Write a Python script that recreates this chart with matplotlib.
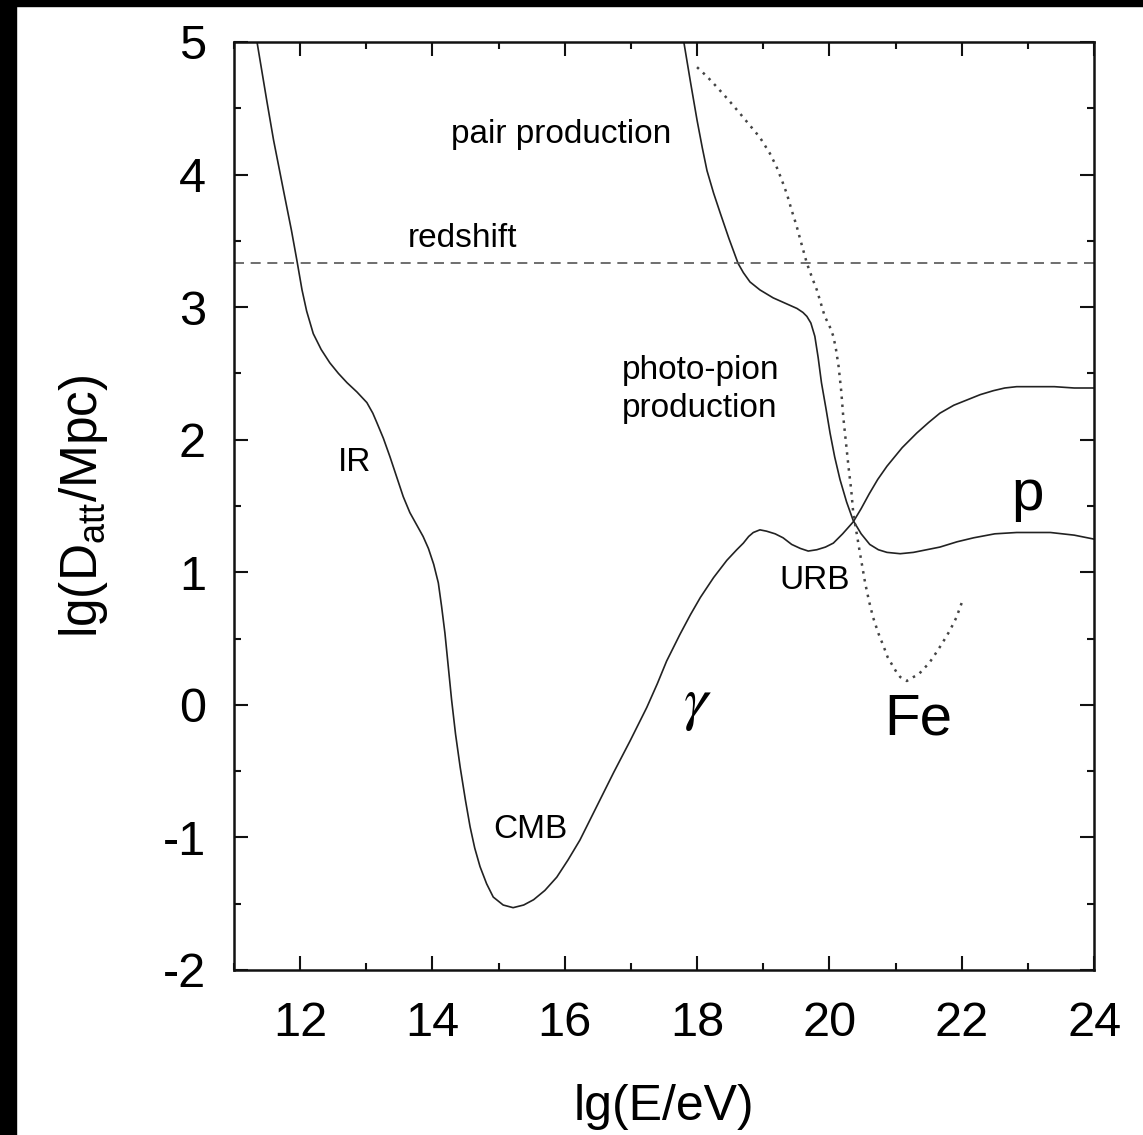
import matplotlib.pyplot as plt
from matplotlib.patches import Rectangle
from matplotlib.ticker import MultipleLocator

plt.rcParams['font.family'] = ['Liberation Sans', 'DejaVu Sans']
plt.rcParams['mathtext.fontset'] = 'custom'
plt.rcParams['mathtext.rm'] = 'Liberation Sans'
plt.rcParams['mathtext.it'] = 'Liberation Sans:italic'
plt.rcParams['axes.unicode_minus'] = False

# attenuation length curves, lg(E/eV) vs lg(D_att/Mpc)
gamma_x = [11.35, 11.50, 11.60, 11.75, 11.87, 11.95, 12.03, 12.10, 12.20, 12.32,
           12.45, 12.58, 12.71, 12.86, 13.01, 13.10, 13.16, 13.26, 13.36, 13.46,
           13.56, 13.66, 13.76, 13.86, 13.94, 14.02, 14.09, 14.14, 14.19, 14.24,
           14.29, 14.35, 14.42, 14.50, 14.57, 14.64, 14.72, 14.82, 14.92, 15.07,
           15.22, 15.38, 15.53, 15.70, 15.88, 16.05, 16.23, 16.48, 16.74, 16.99,
           17.24, 17.40, 17.54, 17.74, 17.90, 18.05, 18.25, 18.45, 18.60, 18.70,
           18.78, 18.85, 18.95, 19.05, 19.18, 19.30, 19.43, 19.56, 19.68, 19.81,
           19.94, 20.06, 20.20, 20.36, 20.48, 20.60, 20.73, 20.87, 21.10, 21.32,
           21.50, 21.67, 21.88, 22.08, 22.28, 22.48, 22.65, 22.83, 23.10, 23.40,
           23.70, 24.00]
gamma_y = [5.00, 4.55, 4.26, 3.88, 3.58, 3.36, 3.13, 2.97, 2.80, 2.68,
           2.58, 2.50, 2.43, 2.36, 2.28, 2.20, 2.13, 2.01, 1.87, 1.72,
           1.57, 1.45, 1.36, 1.27, 1.18, 1.06, 0.92, 0.74, 0.54, 0.29,
           0.04, -0.22, -0.47, -0.72, -0.92, -1.08, -1.22, -1.35, -1.45, -1.51,
           -1.53, -1.51, -1.47, -1.40, -1.30, -1.17, -1.02, -0.77, -0.51, -0.27,
           -0.02, 0.16, 0.33, 0.53, 0.68, 0.81, 0.96, 1.09, 1.17, 1.22,
           1.27, 1.30, 1.32, 1.31, 1.29, 1.26, 1.21, 1.18, 1.16, 1.17,
           1.19, 1.22, 1.29, 1.38, 1.48, 1.59, 1.70, 1.80, 1.94, 2.05,
           2.13, 2.20, 2.26, 2.30, 2.34, 2.37, 2.39, 2.40, 2.40, 2.40,
           2.39, 2.39]

proton_x = [17.80, 17.90, 18.00, 18.08, 18.15, 18.25, 18.35, 18.48, 18.62, 18.70,
            18.80, 18.95, 19.15, 19.33, 19.51, 19.60, 19.66, 19.72, 19.78, 19.83,
            19.88, 19.95, 20.01, 20.08, 20.16, 20.26, 20.36, 20.48, 20.61, 20.74,
            20.87, 21.07, 21.27, 21.47, 21.67, 21.93, 22.18, 22.50, 22.83, 23.10,
            23.34, 23.70, 24.00]
proton_y = [5.00, 4.70, 4.41, 4.20, 4.03, 3.86, 3.71, 3.52, 3.33, 3.26,
            3.19, 3.13, 3.07, 3.03, 2.99, 2.96, 2.93, 2.88, 2.78, 2.62,
            2.43, 2.23, 2.05, 1.87, 1.70, 1.53, 1.39, 1.29, 1.21, 1.17,
            1.15, 1.14, 1.15, 1.17, 1.19, 1.23, 1.26, 1.29, 1.30, 1.30,
            1.30, 1.28, 1.25]

iron_x = [18.00, 18.15, 18.30, 18.48, 18.65, 18.80, 18.95, 19.10, 19.20, 19.28,
          19.36, 19.43, 19.50, 19.56, 19.61, 19.66, 19.74, 19.81, 19.87, 19.93,
          20.00, 20.06, 20.10, 20.14, 20.18, 20.21, 20.25, 20.29, 20.33, 20.36,
          20.41, 20.46, 20.54, 20.60, 20.66, 20.74, 20.82, 20.88, 20.95, 21.01,
          21.07, 21.17, 21.27, 21.35, 21.42, 21.50, 21.57, 21.70, 21.82, 21.92,
          22.00]
iron_y = [4.81, 4.74, 4.66, 4.56, 4.46, 4.37, 4.28, 4.16, 4.06, 3.96,
          3.85, 3.73, 3.62, 3.51, 3.42, 3.33, 3.22, 3.13, 3.03, 2.93,
          2.86, 2.78, 2.68, 2.55, 2.36, 2.17, 1.98, 1.79, 1.62, 1.45,
          1.30, 1.15, 0.92, 0.78, 0.66, 0.54, 0.44, 0.36, 0.30, 0.25,
          0.21, 0.18, 0.21, 0.23, 0.27, 0.31, 0.36, 0.46, 0.56, 0.66,
          0.77]

redshift_level = 3.33

fig = plt.figure(figsize=(11.43, 11.35), dpi=100, facecolor='white')
fig.patches.append(Rectangle((0, 0), 16 / 1143, 1, transform=fig.transFigure,
                             color='black', zorder=-1))
fig.patches.append(Rectangle((0, 1 - 6 / 1135), 1, 6 / 1135, transform=fig.transFigure,
                             color='black', zorder=-1))

ax = fig.add_axes([0.2046, 0.1454, 0.7526, 0.8176])

lc = '#222222'
ax.plot(gamma_x, gamma_y, color=lc, lw=1.2)
ax.plot(proton_x, proton_y, color=lc, lw=1.2)
ax.plot(iron_x, iron_y, color='#444444', lw=1.8, linestyle=(0, (1.0, 2.2)))
ax.axhline(redshift_level, color='#555555', lw=1.2, linestyle=(0, (6, 4)))

ax.set_xlim(11, 24)
ax.set_ylim(-2, 5)
ax.xaxis.set_major_locator(MultipleLocator(2))
ax.xaxis.set_minor_locator(MultipleLocator(1))
ax.yaxis.set_major_locator(MultipleLocator(1))
ax.yaxis.set_minor_locator(MultipleLocator(0.5))
ax.tick_params(which='both', direction='in', top=True, right=True,
               width=1.5, color='#111111', labelsize=35)
ax.tick_params(which='major', length=10)
ax.tick_params(which='minor', length=5)
ax.tick_params(axis='x', pad=22)
ax.tick_params(axis='y', pad=20)
for s in ax.spines.values():
    s.set_linewidth(1.8)
    s.set_color('#111111')

ax.set_xlabel('lg(E/eV)', fontsize=36, labelpad=28)
ax.set_ylabel(r'lg(D$_{\mathrm{att}}$/Mpc)', fontsize=37, labelpad=38)

fs = 24
ax.text(15.94, 4.30, 'pair production', fontsize=fs, ha='center', va='center')
ax.text(14.45, 3.52, 'redshift', fontsize=fs, ha='center', va='center')
ax.text(16.87, 2.38, 'photo-pion\nproduction', fontsize=fs, ha='left', va='center',
        linespacing=1.3)
ax.text(12.82, 1.83, 'IR', fontsize=fs, ha='center', va='center')
ax.text(15.48, -0.94, 'CMB', fontsize=fs, ha='center', va='center')
ax.text(19.77, 0.94, 'URB', fontsize=fs, ha='center', va='center')
ax.text(18.0, 0.0, r'$\gamma$', fontsize=44, ha='center', va='center',
        math_fontfamily='stix')
ax.text(21.34, -0.11, 'Fe', fontsize=42, ha='center', va='center')
ax.text(22.99, 1.47, 'p', fontsize=42, ha='center', va='baseline')

fig.savefig('out.png', dpi=100, facecolor='white')
